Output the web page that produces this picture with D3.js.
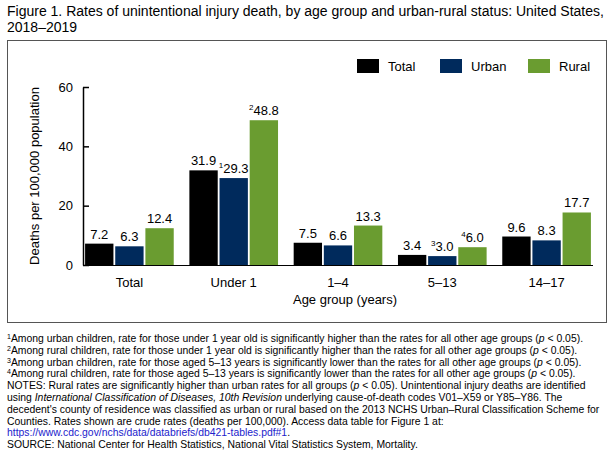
<!DOCTYPE html><html><head><meta charset="utf-8"><script src="https://cdn.jsdelivr.net/npm/d3@7"></script>
<style>body{margin:0;background:#fff}text{font-family:"Liberation Sans",Arial,sans-serif}</style></head><body><svg id="c" width="615" height="457"></svg>
<script>
const categories=["Total","Under 1","1–4","5–13","14–17"];
const seriesNames=["Total","Urban","Rural"];
const totalVals=[7.2,31.9,7.5,3.4,9.6];
const urbanVals=[6.3,29.3,6.6,3.0,8.3];
const ruralVals=[12.4,48.8,13.3,6.0,17.7];
const urbanSup=["","1","","3",""];
const ruralSup=["","2","","4",""];
const yTicks=[0,20,40,60];
const colors=["#000000","#002a5c","#6a9c30"];
const series=[totalVals,urbanVals,ruralVals];
const sups=[["","","","",""],urbanSup,ruralSup];
const svg=d3.select("#c");
svg.append("text").attr("x",7).attr("y",16).attr("font-size",14).text("Figure 1. Rates of unintentional injury death, by age group and urban-rural status: United States,");
svg.append("text").attr("x",7).attr("y",32).attr("font-size",14).text("2018–2019");
svg.append("rect").attr("x",7.5).attr("y",40.5).attr("width",599).attr("height",282).attr("fill","none").attr("stroke","#555");
const x=d3.scaleBand().domain(categories).range([83,593]).paddingInner(0.15).paddingOuter(0.02);
const y=d3.scaleLinear().domain([0,60]).range([265,87]);
const xs=d3.scaleBand().domain([0,1,2]).range([0,x.bandwidth()]).paddingInner(0.06);
const g=svg.append("g");
series.forEach((vals,si)=>{
 vals.forEach((v,ci)=>{
  const bx=x(categories[ci])+xs(si);
  g.append("rect").attr("x",bx).attr("y",y(v)).attr("width",xs.bandwidth()).attr("height",y(0)-y(v)).attr("fill",colors[si]);
  const t=g.append("text").attr("x",bx+xs.bandwidth()/2).attr("y",y(v)-5).attr("text-anchor","middle").attr("font-size",13);
  if(sups[si][ci]) t.append("tspan").attr("font-size",8).attr("dy",-5).text(sups[si][ci]);
  t.append("tspan").attr("dy",sups[si][ci]?5:0).text(v.toFixed(1));
 });
});
const ya=svg.append("g").attr("transform","translate(83,0)").call(d3.axisLeft(y).tickValues(yTicks).tickSize(6).tickSizeOuter(0));
ya.selectAll("text").attr("font-size",13).attr("fill","#000").attr("x",-10);
ya.select(".domain").attr("stroke","#000").attr("stroke-width",1.5);
ya.selectAll(".tick line").attr("stroke","#000").attr("stroke-width",1.5).attr("x1",0).attr("x2",6);
svg.append("line").attr("x1",83).attr("x2",593).attr("y1",265.5).attr("y2",265.5).attr("stroke","#000").attr("stroke-width",1.2);
categories.forEach(c=>svg.append("text").attr("x",x(c)+x.bandwidth()/2).attr("y",287).attr("text-anchor","middle").attr("font-size",13).text(c));
svg.append("text").attr("x",345).attr("y",304).attr("text-anchor","middle").attr("font-size",13).text("Age group (years)");
svg.append("text").attr("transform","translate(39,176) rotate(-90)").attr("text-anchor","middle").attr("font-size",13).text("Deaths per 100,000 population");
const lx=[357,440,528];
seriesNames.forEach((n,i)=>{svg.append("rect").attr("x",lx[i]).attr("y",59).attr("width",22).attr("height",14).attr("fill",colors[i]);
svg.append("text").attr("x",lx[i]+31).attr("y",71).attr("font-size",13).text(n);});
const notes=[
[["s","1"],["t","Among urban children, rate for those under 1 year old is significantly higher than the rates for all other age groups ("],["i","p"],["t"," < 0.05)."]],
[["s","2"],["t","Among rural children, rate for those under 1 year old is significantly higher than the rates for all other age groups ("],["i","p"],["t"," < 0.05)."]],
[["s","3"],["t","Among urban children, rate for those aged 5–13 years is significantly lower than the rates for all other age groups ("],["i","p"],["t"," < 0.05)."]],
[["s","4"],["t","Among rural children, rate for those aged 5–13 years is significantly lower than the rates for all other age groups ("],["i","p"],["t"," < 0.05)."]],
[["t","NOTES: Rural rates are significantly higher than urban rates for all groups ("],["i","p"],["t"," < 0.05). Unintentional injury deaths are identified"]],
[["t","using "],["i","International Classification of Diseases, 10th Revision"],["t"," underlying cause-of-death codes V01–X59 or Y85–Y86. The"]],
[["t","decedent's county of residence was classified as urban or rural based on the 2013 NCHS Urban–Rural Classification Scheme for"]],
[["t","Counties. Rates shown are crude rates (deaths per 100,000). Access data table for Figure 1 at:"]],
[["l","https://www.cdc.gov/nchs/data/databriefs/db421-tables.pdf#1"],["t","."]],
[["t","SOURCE: National Center for Health Statistics, National Vital Statistics System, Mortality."]]];
notes.forEach((ln,i)=>{const t=svg.append("text").attr("x",7).attr("y",342+i*11.8).attr("font-size",10.4);
 ln.forEach(([k,s])=>{const sp=t.append("tspan").text(s);
  if(k==="s")sp.attr("font-size",7).attr("baseline-shift","super");
  if(k==="i")sp.attr("font-style","italic");
  if(k==="l")sp.attr("fill","#2222cc");});});
</script></body></html>
